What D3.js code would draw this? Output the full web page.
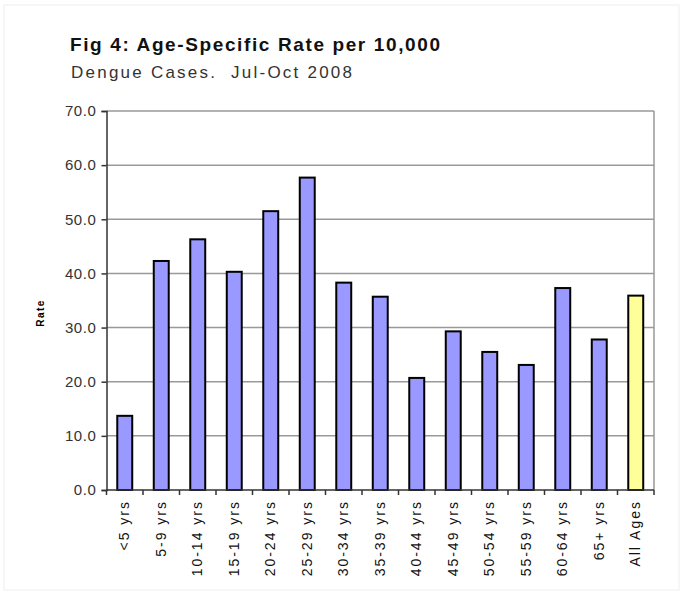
<!DOCTYPE html>
<html>
<head>
<meta charset="utf-8">
<script src="https://cdn.jsdelivr.net/npm/d3@7/dist/d3.min.js"></script>
<style>
  html, body { margin: 0; padding: 0; background: #fff; }
  svg { display: block; }
  text { font-family: "Liberation Sans", Arial, sans-serif; }
</style>
</head>
<body>
<script>
// Age groups and dengue rates per 10,000 (Jul–Oct 2008)
const categories = ["<5 yrs", "5-9 yrs", "10-14 yrs", "15-19 yrs", "20-24 yrs", "25-29 yrs",
  "30-34 yrs", "35-39 yrs", "40-44 yrs", "45-49 yrs", "50-54 yrs", "55-59 yrs",
  "60-64 yrs", "65+ yrs", "All Ages"];
const rates = [13.7, 42.3, 46.3, 40.3, 51.5, 57.7, 38.3, 35.7, 20.7, 29.3, 25.5, 23.1, 37.3, 27.8, 35.9];
const yTicks = [0, 10, 20, 30, 40, 50, 60, 70];
const titleText = "Fig 4: Age-Specific Rate per 10,000";
const subtitleText = "Dengue Cases.  Jul-Oct 2008";
const yLabel = "Rate";

const W = 684, H = 595;
const plot = { left: 106.5, right: 654, top: 111, bottom: 490 };

const svg = d3.select("body").append("svg").attr("width", W).attr("height", H);

// faint outer frame
svg.append("rect").attr("x", 4).attr("y", 5).attr("width", W - 9).attr("height", H - 10)
  .attr("fill", "none").attr("stroke", "#f4f4f4").attr("stroke-width", 1.5);

const x = d3.scaleBand().domain(categories).range([plot.left, plot.right]).paddingInner(0.59).paddingOuter(0.295);
const xEdges = d3.scaleLinear().domain([0, categories.length]).range([plot.left, plot.right]);
const y = d3.scaleLinear().domain([0, 70]).range([plot.bottom, plot.top]);

// gridlines
svg.append("g").selectAll("line").data(yTicks.filter(d => d > 0)).join("line")
  .attr("x1", plot.left).attr("x2", plot.right)
  .attr("y1", d => y(d)).attr("y2", d => y(d))
  .attr("stroke", "#999").attr("stroke-width", 1.5);

// right border of plot area
svg.append("line").attr("x1", plot.right).attr("x2", plot.right)
  .attr("y1", plot.top).attr("y2", plot.bottom)
  .attr("stroke", "#999").attr("stroke-width", 1.5);

// bars
svg.append("g").selectAll("rect").data(categories).join("rect")
  .attr("x", d => x(d))
  .attr("width", x.bandwidth())
  .attr("y", (d, i) => y(rates[i]))
  .attr("height", (d, i) => y(0) - y(rates[i]))
  .attr("fill", (d, i) => i === categories.length - 1 ? "#ffff99" : "#9999ff")
  .attr("stroke", "#000").attr("stroke-width", 2);

// y axis
const yAxis = d3.axisLeft(y).tickValues(yTicks).tickFormat(d3.format(".1f")).tickSize(5).tickPadding(5);
const gy = svg.append("g").attr("transform", `translate(${plot.left},0)`).call(yAxis);
gy.select(".domain").attr("stroke", "#333").attr("stroke-width", 1.5);
gy.selectAll(".tick line").attr("stroke", "#333").attr("stroke-width", 1.5);
gy.selectAll("text").attr("font-size", 15).attr("fill", "#333").attr("letter-spacing", 0.6);

// x axis: tick marks at category boundaries
const gx = svg.append("g").attr("transform", `translate(0,${plot.bottom})`);
gx.append("line").attr("x1", plot.left).attr("x2", plot.right).attr("y1", 0).attr("y2", 0)
  .attr("stroke", "#333").attr("stroke-width", 1.5);
gx.selectAll("line.tk").data(d3.range(categories.length + 1)).join("line").attr("class", "tk")
  .attr("x1", d => xEdges(d)).attr("x2", d => xEdges(d)).attr("y1", 0).attr("y2", 5)
  .attr("stroke", "#333").attr("stroke-width", 1.5);
gx.selectAll("text").data(categories).join("text")
  .attr("transform", d => `translate(${x(d) + x.bandwidth() / 2 + 4.5},10) rotate(-90)`)
  .attr("text-anchor", "end")
  .attr("font-size", 14).attr("letter-spacing", 2).attr("fill", "#111")
  .text(d => d);

// y axis title
svg.append("text")
  .attr("transform", `translate(44,313) rotate(-90)`)
  .attr("text-anchor", "middle").attr("font-size", 10).attr("font-weight", "bold")
  .attr("letter-spacing", 1.5)
  .text(yLabel);

// titles
svg.append("text").attr("x", 70).attr("y", 51)
  .attr("font-size", 19).attr("font-weight", "bold").attr("fill", "#111")
  .attr("textLength", 370).attr("lengthAdjust", "spacing")
  .text(titleText);
svg.append("text").attr("x", 71).attr("y", 78)
  .attr("font-size", 17).attr("fill", "#333")
  .attr("textLength", 281).attr("lengthAdjust", "spacing")
  .style("white-space", "pre")
  .text(subtitleText);
</script>
</body>
</html>
